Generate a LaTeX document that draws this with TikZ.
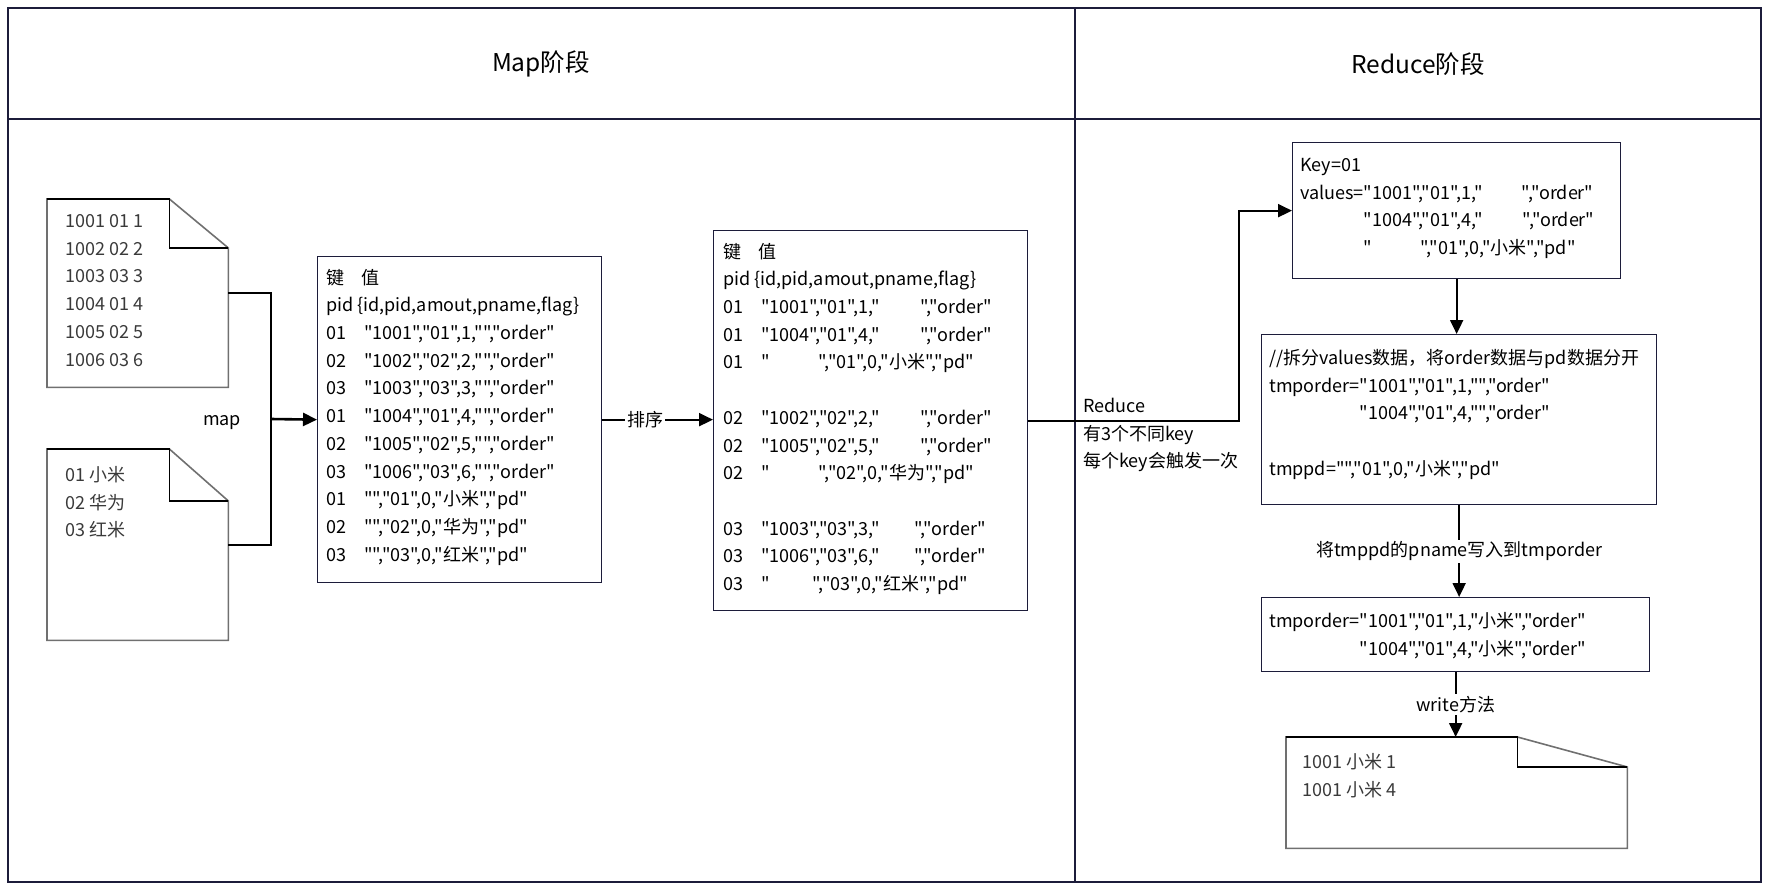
\documentclass[tikz,border=0pt]{standalone}
\usepackage{fontspec}
\setmainfont{Noto Sans CJK SC}[Ligatures=TeXOff]
\usepackage{tikz}
\usetikzlibrary{calc,arrows.meta}
\definecolor{framecol}{HTML}{1C1C3A}
\definecolor{filegray}{HTML}{707070}
\definecolor{filetext}{HTML}{3A3A3A}
\newcommand{\kcol}[1]{\makebox[38pt][l]{#1}}
\newcommand{\qgap}[1]{\hspace{#1pt}}

\begin{document}
\begin{tikzpicture}[x=1pt,y=-1pt,
    every node/.style={inner sep=0pt, font=\fontsize{18}{27.7}\selectfont},
    box/.style={draw=framecol, line width=1.3pt, anchor=north west},
    ghost/.style={anchor=north west},
    lines/.style={align=left, anchor=north west},
    head/.style={font=\fontsize{24.5}{28}\selectfont},
    link/.style={line width=2pt},
    flow/.style={link, -{Triangle[length=14pt,width=13pt]}},
    tag/.style={fill=white, inner sep=2pt}]
\useasboundingbox (0,0) rectangle (1769,889);
\draw[framecol, line width=1.3pt] (8,8) rectangle (1761,882);
\draw[framecol, line width=1.3pt] (8,119) -- (1761,119) (1075,8) -- (1075,882);
\node[head] (maphead) at (541,64) {Map阶段};
\node[head] (redhead) at (1418,64) {Reduce阶段};

\node[ghost, minimum width=181pt, minimum height=188pt] (f1) at (47,199) {};
\node[ghost, minimum width=181pt, minimum height=191pt] (f2) at (47,449) {};
\node[ghost, minimum width=341pt, minimum height=111pt] (out) at (1286,737) {};
\foreach \f/\dx/\dy in {f1/59/49, f2/59/52, out/110/30} {
    \draw[filegray, line width=1.6pt] (\f.north west) -- ($(\f.north east)+(-\dx,0)$)
        -- ($(\f.north east)+(0,\dy)$) -- (\f.south east) -- (\f.south west) -- cycle;
    \draw[line width=1.3pt] (\f.north west) -- ($(\f.north east)+(-\dx,0)$)
        |- ($(\f.north east)+(0,\dy)$);
}
\node[lines, text=filetext] (f1txt) at (65,208) {\strut 1001 01 1\\1002 02 2\\1003 03 3\\1004 01 4\\1005 02 5\\1006 03 6};
\node[lines, text=filetext] (f2txt) at (65,462) {\strut 01 小米\\02 华为\\03 红米};
\node[lines, text=filetext] (outtxt) at (1302,749) {\strut 1001 小米 1\\1001 小米 4};

\node[box, minimum width=284pt, minimum height=326pt] (kv1) at (317,256) {};
\node[lines] (kv1txt) at (326,264.6) {\strut\makebox[35pt][l]{键}值\\
    pid \{id,pid,amout,pname,flag\}\\
    \kcol{01}"1001","01",1,"","order"\\
    \kcol{02}"1002","02",2,"","order"\\
    \kcol{03}"1003","03",3,"","order"\\
    \kcol{01}"1004","01",4,"","order"\\
    \kcol{02}"1005","02",5,"","order"\\
    \kcol{03}"1006","03",6,"","order"\\
    \kcol{01}"","01",0,"小米","pd"\\
    \kcol{02}"","02",0,"华为","pd"\\
    \kcol{03}"","03",0,"红米","pd"};

\node[box, minimum width=314pt, minimum height=380pt] (kv2) at (713,230) {};
\node[lines] (kv2txt) at (723,238.6) {\strut\makebox[35pt][l]{键}值\\
    pid \{id,pid,amout,pname,flag\}\\
    \kcol{01}"1001","01",1,"\qgap{40}","order"\\
    \kcol{01}"1004","01",4,"\qgap{40}","order"\\
    \kcol{01}"\qgap{49}","01",0,"小米","pd"\\[27.7pt]
    \kcol{02}"1002","02",2,"\qgap{40}","order"\\
    \kcol{02}"1005","02",5,"\qgap{40}","order"\\
    \kcol{02}"\qgap{49}","02",0,"华为","pd"\\[27.7pt]
    \kcol{03}"1003","03",3,"\qgap{34}","order"\\
    \kcol{03}"1006","03",6,"\qgap{34}","order"\\
    \kcol{03}"\qgap{43}","03",0,"红米","pd"};

\node[box, minimum width=328pt, minimum height=136pt] (keybox) at (1292,142) {};
\node[lines] (keytxt) at (1300,152) {\strut Key=01\\
    values="1001","01",1,"\qgap{39}","order"\\
    \phantom{values=}"1004","01",4,"\qgap{40}","order"\\
    \phantom{values=}"\qgap{48}","01",0,"小米","pd"};

\node[box, minimum width=395pt, minimum height=170pt] (splitbox) at (1261,334) {};
\node[lines] (splittxt) at (1269,345) {\strut //拆分values数据，将order数据与pd数据分开\\
    tmporder="1001","01",1,"","order"\\
    \phantom{tmporder=}"1004","01",4,"","order"\\[27.7pt]
    tmppd="","01",0,"小米","pd"};

\node[box, minimum width=388pt, minimum height=74pt] (mergebox) at (1261,597) {};
\node[lines] (mergetxt) at (1269,608) {\strut tmporder="1001","01",1,"小米","order"\\
    \phantom{tmporder=}"1004","01",4,"小米","order"};

\coordinate (join) at (271,419);
\draw[link] (f1.east) -| (join);
\draw[link] (f2.east) -| (join);
\draw[flow, line width=2.6pt] (join) -- (kv1.west);
\node (maplbl) at (222,423) {map};
\draw[flow] (kv1.east) -- node[tag, pos=.39] (sortlbl) {排序} (kv1.east -| kv2.west);
\draw[flow] (kv2.east) -| ($(keybox.west)+(-53,0)$) -- (keybox.west);
\node[lines] (redlbl) at (1083,393) {\strut Reduce\\有3个不同key\\每个key会触发一次};
\draw[flow] (keybox.south) -- (keybox.south |- splitbox.north);
\draw[flow] (splitbox.south) -- node[tag] (mergelbl) {将tmppd的pname写入到tmporder} (splitbox.south |- mergebox.north);
\draw[flow] (mergebox.south) -- node[tag] (writelbl) {write方法} (mergebox.south |- out.north);
\end{tikzpicture}
\end{document}
